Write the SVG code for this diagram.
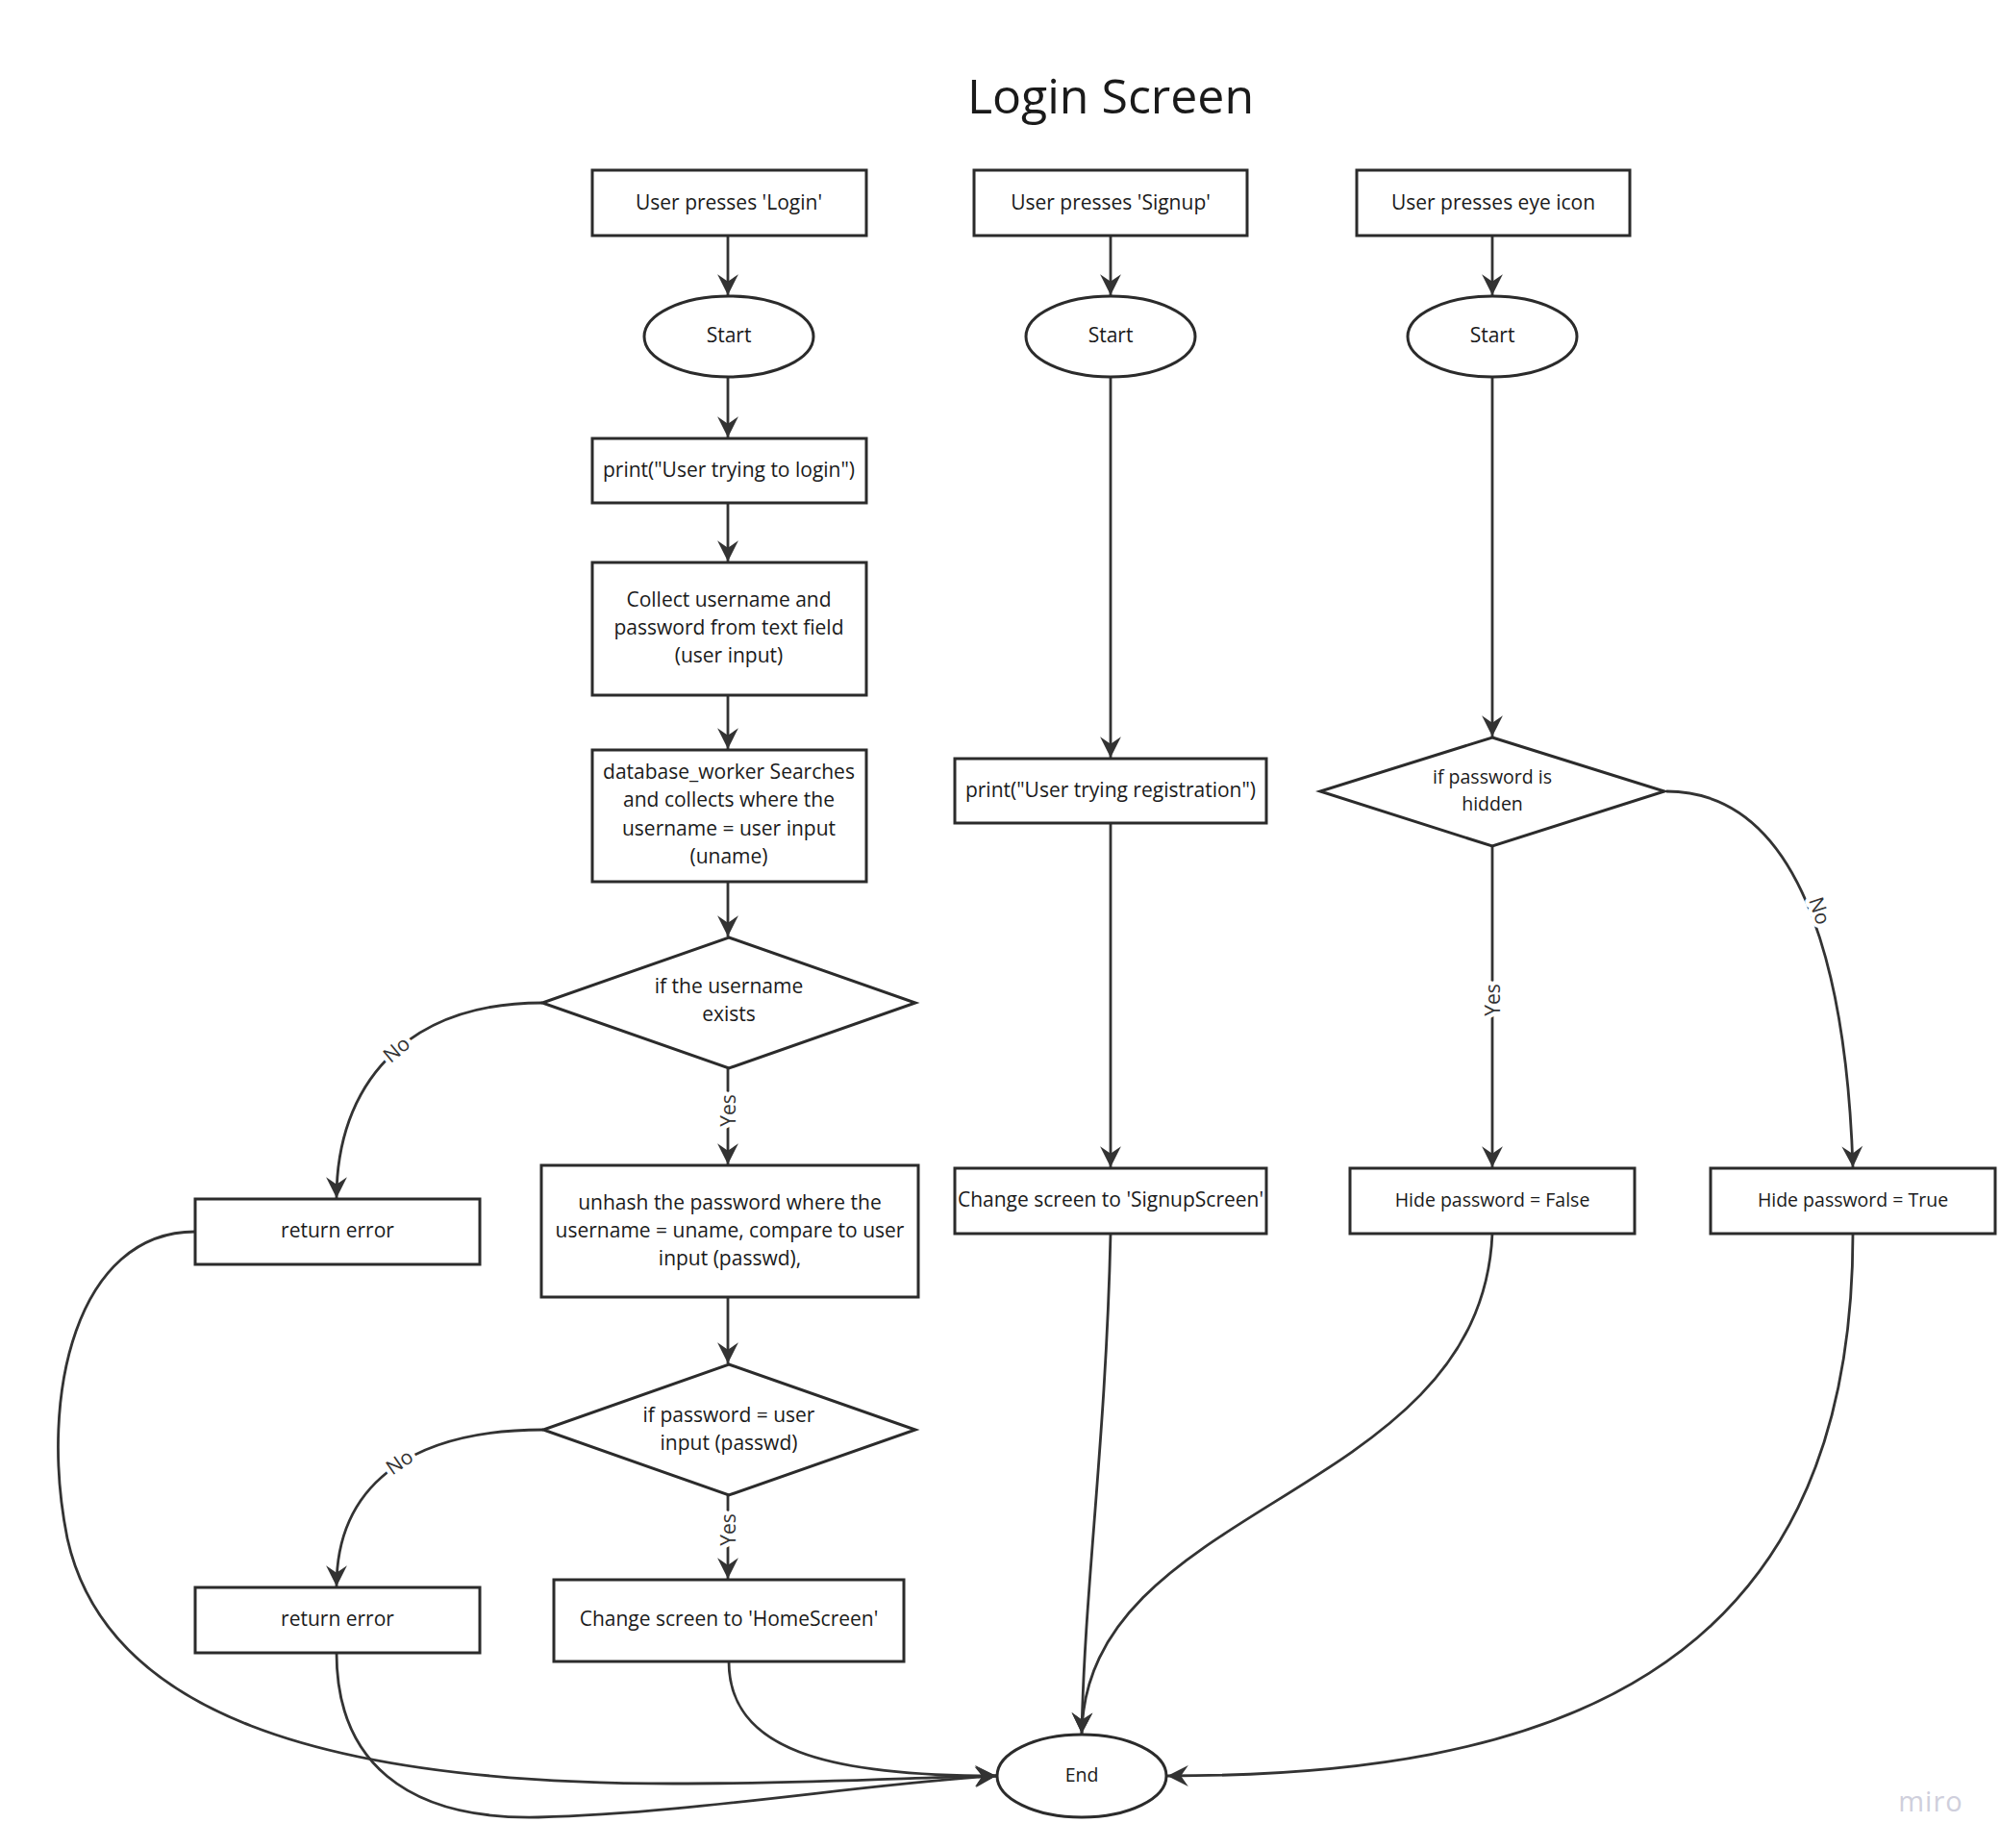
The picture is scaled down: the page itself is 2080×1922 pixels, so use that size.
<svg xmlns="http://www.w3.org/2000/svg" width="2080" height="1922" viewBox="0 0 2080 1922">
<style>
text{font-family:"Open Sans","Liberation Sans",sans-serif;fill:#1a1a1a}
.t{font-size:21px;text-anchor:middle;dominant-baseline:central}
.s{font-size:19.5px}
.title{font-size:50px;text-anchor:middle;dominant-baseline:central}
.lbl{font-size:21px;text-anchor:middle;dominant-baseline:central;fill:#333;stroke:#fff;stroke-width:9px;paint-order:stroke;stroke-linejoin:round}
.n{fill:#fff;stroke:#2b2b2b;stroke-width:3}
.c{fill:none;stroke:#333;stroke-width:2.8}
.miro{font-size:29px;fill:#cfcfdc;text-anchor:middle;dominant-baseline:central;letter-spacing:1px}
</style>
<defs>
<marker id="ah" markerUnits="userSpaceOnUse" markerWidth="24" markerHeight="24" viewBox="-21 -11 22 22" refX="0" refY="0" orient="auto">
<path d="M0,0 L-20,-10 L-13,0 L-20,10 Z" fill="#333"/>
</marker>
</defs>
<rect width="2080" height="1922" fill="#fff"/>
<text class="title" x="1155" y="99">Login Screen</text>

<g id="connectors">
<path class="c" marker-end="url(#ah)" d="M757,245 L757,307"/>
<path class="c" marker-end="url(#ah)" d="M757,392 L757,455"/>
<path class="c" marker-end="url(#ah)" d="M757,523 L757,584"/>
<path class="c" marker-end="url(#ah)" d="M757,723 L757,779"/>
<path class="c" marker-end="url(#ah)" d="M757,917 L757,974"/>
<path class="c" marker-end="url(#ah)" d="M757,1111 L757,1211"/>
<path class="c" marker-end="url(#ah)" d="M564,1043 C420,1043 350,1130 350,1246"/>
<path class="c" marker-end="url(#ah)" d="M757,1349 L757,1418"/>
<path class="c" marker-end="url(#ah)" d="M757,1555 L757,1642"/>
<path class="c" marker-end="url(#ah)" d="M565,1487 C420,1487 350,1550 350,1650"/>
<path class="c" marker-end="url(#ah)" d="M203,1281 C80,1281 40,1450 70,1600 C110,1780 330,1855 700,1855 C850,1855 960,1848 1036,1847"/>
<path class="c" marker-end="url(#ah)" d="M350,1719 C350,1830 420,1893 560,1890 C720,1886 900,1855 1036,1847"/>
<path class="c" marker-end="url(#ah)" d="M758,1728 C758,1820 860,1847 1036,1847"/>
<path class="c" marker-end="url(#ah)" d="M1155,245 L1155,307"/>
<path class="c" marker-end="url(#ah)" d="M1155,392 L1155,788"/>
<path class="c" marker-end="url(#ah)" d="M1155,856 L1155,1214"/>
<path class="c" marker-end="url(#ah)" d="M1155,1283 C1150,1500 1128,1650 1125,1803"/>
<path class="c" marker-end="url(#ah)" d="M1552,245 L1552,307"/>
<path class="c" marker-end="url(#ah)" d="M1552,392 L1552,766"/>
<path class="c" marker-end="url(#ah)" d="M1552,880 L1552,1214"/>
<path class="c" marker-end="url(#ah)" d="M1733,823 C1870,823 1920,1000 1927,1214"/>
<path class="c" marker-end="url(#ah)" d="M1552,1283 C1540,1560 1130,1560 1125,1803"/>
<path class="c" marker-end="url(#ah)" d="M1927,1283 C1927,1750 1600,1847 1214,1847"/>
<text class="lbl" transform="translate(757,1155) rotate(-90)">Yes</text>
<text class="lbl" transform="translate(757,1591) rotate(-90)">Yes</text>
<text class="lbl" transform="translate(1552,1040) rotate(-90)">Yes</text>
<text class="lbl" transform="translate(412,1091) rotate(-40)">No</text>
<text class="lbl" transform="translate(415,1520) rotate(-35)">No</text>
<text class="lbl" transform="translate(1893,947) rotate(72)">No</text>
</g>

<g id="login-press"><rect class="n" x="616" y="177" width="285" height="68"/><text class="t" x="758" y="210">User presses 'Login'</text></g>
<g id="signup-press"><rect class="n" x="1013" y="177" width="284" height="68"/><text class="t" x="1155" y="210">User presses 'Signup'</text></g>
<g id="eye-press"><rect class="n" x="1411" y="177" width="284" height="68"/><text class="t" x="1553" y="210">User presses eye icon</text></g>

<g id="start1"><ellipse class="n" cx="758" cy="350" rx="88" ry="42"/><text class="t" x="758" y="348">Start</text></g>
<g id="start2"><ellipse class="n" cx="1155" cy="350" rx="88" ry="42"/><text class="t" x="1155" y="348">Start</text></g>
<g id="start3"><ellipse class="n" cx="1552" cy="350" rx="88" ry="42"/><text class="t" x="1552" y="348">Start</text></g>

<g id="print-login"><rect class="n" x="616" y="456" width="285" height="67"/><text class="t" x="758" y="488">print("User trying to login")</text></g>
<g id="collect"><rect class="n" x="616" y="585" width="285" height="138"/><text class="t" x="758" y="623">Collect username and</text><text class="t" x="758" y="652">password from text field</text><text class="t" x="758" y="681">(user input)</text></g>
<g id="db-search"><rect class="n" x="616" y="780" width="285" height="137"/><text class="t" x="758" y="802">database_worker Searches</text><text class="t" x="758" y="831">and collects where the</text><text class="t" x="758" y="861">username = user input</text><text class="t" x="758" y="890">(uname)</text></g>
<g id="dec-username"><polygon class="n" points="758,975 952,1043 758,1111 564,1043"/><text class="t" x="758" y="1025">if the username</text><text class="t" x="758" y="1054">exists</text></g>
<g id="return-error-1"><rect class="n" x="203" y="1247" width="296" height="68"/><text class="t" x="351" y="1279">return error</text></g>
<g id="unhash"><rect class="n" x="563" y="1212" width="392" height="137"/><text class="t" x="759" y="1250">unhash the password where the</text><text class="t" x="759" y="1279">username = uname, compare to user</text><text class="t" x="759" y="1308">input (passwd),</text></g>
<g id="dec-password"><polygon class="n" points="758,1419 952,1487 758,1555 565,1487"/><text class="t" x="758" y="1471">if password = user</text><text class="t" x="758" y="1500">input (passwd)</text></g>
<g id="return-error-2"><rect class="n" x="203" y="1651" width="296" height="68"/><text class="t" x="351" y="1683">return error</text></g>
<g id="home-screen"><rect class="n" x="576" y="1643" width="364" height="85"/><text class="t" x="758" y="1683">Change screen to 'HomeScreen'</text></g>

<g id="print-reg"><rect class="n" x="993" y="789" width="324" height="67"/><text class="t" x="1155" y="821">print("User trying registration")</text></g>
<g id="signup-screen"><rect class="n" x="993" y="1215" width="324" height="68"/><text class="t" x="1155" y="1247">Change screen to 'SignupScreen'</text></g>

<g id="dec-hidden"><polygon class="n" points="1552,767 1731,823 1552,880 1373,823"/><text class="t s" x="1552" y="807">if password is</text><text class="t s" x="1552" y="835">hidden</text></g>
<g id="hide-false"><rect class="n" x="1404" y="1215" width="296" height="68"/><text class="t s" x="1552" y="1247">Hide password = False</text></g>
<g id="hide-true"><rect class="n" x="1779" y="1215" width="296" height="68"/><text class="t s" x="1927" y="1247">Hide password = True</text></g>

<g id="end"><ellipse class="n" cx="1125" cy="1847" rx="88" ry="43"/><text class="t s" x="1125" y="1845">End</text></g>

<text class="miro" x="2008" y="1872">miro</text>
</svg>
